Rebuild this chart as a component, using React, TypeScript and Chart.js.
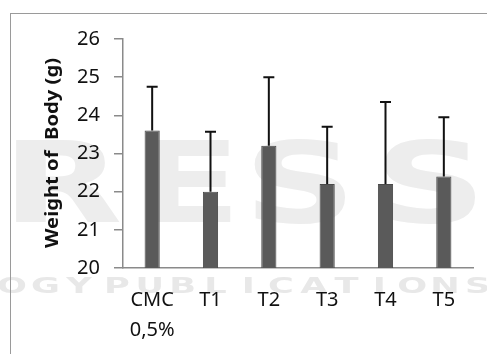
import React, { useEffect, useRef } from "react";
import { Chart, registerables } from "chart.js";

Chart.register(...registerables);

const categories: (string | string[])[] = [["CMC", "0,5%"], "T1", "T2", "T3", "T4", "T5"];
const meanWeights = [23.6, 22.0, 23.2, 22.2, 22.2, 22.4];
const upperErrors = [1.15, 1.57, 1.8, 1.5, 2.15, 1.55];
const yTitle = "Weight of  Body (g)";
const watermarkBig = ["R", "E", "S", "S"];
const watermarkSmall = "OGY PUBLICATIONS";

const watermarkPlugin = {
  id: "watermark",
  beforeDraw(chart: any) {
    const ctx = chart.ctx as CanvasRenderingContext2D;
    ctx.save();
    ctx.fillStyle = "#ededed";
    ctx.font = "bold 112px 'DejaVu Sans'";
    ctx.textAlign = "center";
    ctx.textBaseline = "alphabetic";
    const bigCenters = [62, 188, 300, 430];
    watermarkBig.forEach((ch, i) => {
      ctx.save();
      ctx.translate(bigCenters[i], 222);
      ctx.scale(1.4, 1);
      ctx.fillText(ch, 0, 0);
      ctx.restore();
    });
    ctx.fillStyle = "#e8e8e8";
    ctx.font = "bold 22px 'DejaVu Sans'";
    const letters = watermarkSmall.split("");
    const centers: number[] = letters.map((ch, i) => (i < 3 ? 12 + i * 33.5 : 117 + (i - 4) * 32.8));
    letters.forEach((ch, i) => {
      if (ch === " ") return;
      ctx.save();
      ctx.translate(centers[i], 293);
      ctx.scale(1.6, 1);
      ctx.fillText(ch, 0, 0);
      ctx.restore();
    });
    ctx.restore();
  },
};

const titlePlugin = {
  id: "yTitleDraw",
  afterDraw(chart: any) {
    const ctx = chart.ctx as CanvasRenderingContext2D;
    ctx.save();
    ctx.font = "bold 18px 'Noto Sans'";
    const w = ctx.measureText(yTitle).width;
    ctx.translate(53, 153);
    ctx.rotate(-Math.PI / 2);
    ctx.scale(190 / w, 1);
    ctx.fillStyle = "#111111";
    ctx.textAlign = "center";
    ctx.textBaseline = "middle";
    ctx.fillText(yTitle, 0, 0);
    ctx.restore();
  },
};

const errorBarPlugin = {
  id: "errorBars",
  afterDatasetsDraw(chart: any) {
    const ctx = chart.ctx as CanvasRenderingContext2D;
    const meta = chart.getDatasetMeta(0);
    const yScale = chart.scales.y;
    ctx.save();
    ctx.strokeStyle = "#111111";
    ctx.lineWidth = 2;
    meta.data.forEach((bar: any, i: number) => {
      const x = bar.x;
      const yTop = yScale.getPixelForValue(meanWeights[i] + upperErrors[i]);
      const yBase = yScale.getPixelForValue(meanWeights[i]);
      ctx.beginPath();
      ctx.moveTo(x, yBase);
      ctx.lineTo(x, yTop);
      ctx.moveTo(x - 5.5, yTop);
      ctx.lineTo(x + 5.5, yTop);
      ctx.stroke();
    });
    ctx.restore();
  },
};

export default function App() {
  const canvasRef = useRef<HTMLCanvasElement | null>(null);

  useEffect(() => {
    if (!canvasRef.current) return;
    const chart = new Chart(canvasRef.current, {
      type: "bar",
      data: {
        labels: categories as any,
        datasets: [
          {
            data: meanWeights,
            backgroundColor: "#5a5a5a",
            borderColor: "#4a4a4a",
            borderWidth: 1,
            barPercentage: 0.26,
            categoryPercentage: 1,
          },
        ],
      },
      options: {
        animation: false,
        responsive: false,
        maintainAspectRatio: false,
        devicePixelRatio: 1,
        layout: { padding: { top: 39, right: 14, left: 0, bottom: 0 } },
        plugins: {
          legend: { display: false },
          tooltip: { enabled: false },
        },
        scales: {
          x: {
            afterFit: (scale: any) => {
              scale.height = 86;
            },
            border: { display: true, color: "#8a8a8a", width: 1.5 },
            grid: { display: true, drawOnChartArea: false, drawTicks: false, color: "rgba(0,0,0,0)" },
            ticks: {
              padding: 17,
              color: "#111111",
              font: { family: "'Noto Sans'", size: 20, lineHeight: 1.5 },
              maxRotation: 0,
              autoSkip: false,
            },
          },
          y: {
            min: 20,
            max: 26,
            afterFit: (scale: any) => {
              scale.width = 123;
            },
            border: { display: true, color: "#8a8a8a", width: 1.5 },
            grid: { display: true, drawOnChartArea: false, drawTicks: true, tickLength: 9, color: "#8a8a8a", lineWidth: 1.5 },
            ticks: {
              stepSize: 1,
              padding: 14,
              color: "#111111",
              font: { family: "'Noto Sans'", size: 20 },
            },
            title: { display: false, text: yTitle },
          },
        },
      },
      plugins: [watermarkPlugin, errorBarPlugin, titlePlugin],
    });
    return () => chart.destroy();
  }, []);

  return (
    <div style={{ position: "fixed", left: 0, top: 0, width: 487, height: 354, background: "#ffffff", overflow: "hidden" }}>
      <canvas ref={canvasRef} width={487} height={354} style={{ position: "absolute", left: 0, top: 0, width: 487, height: 354 }} />
      <div
        style={{
          position: "absolute",
          left: 10,
          top: 13,
          width: 600,
          height: 500,
          borderLeft: "1.5px solid #9a9a9a",
          borderTop: "1.5px solid #9a9a9a",
          pointerEvents: "none",
        }}
      />
    </div>
  );
}
